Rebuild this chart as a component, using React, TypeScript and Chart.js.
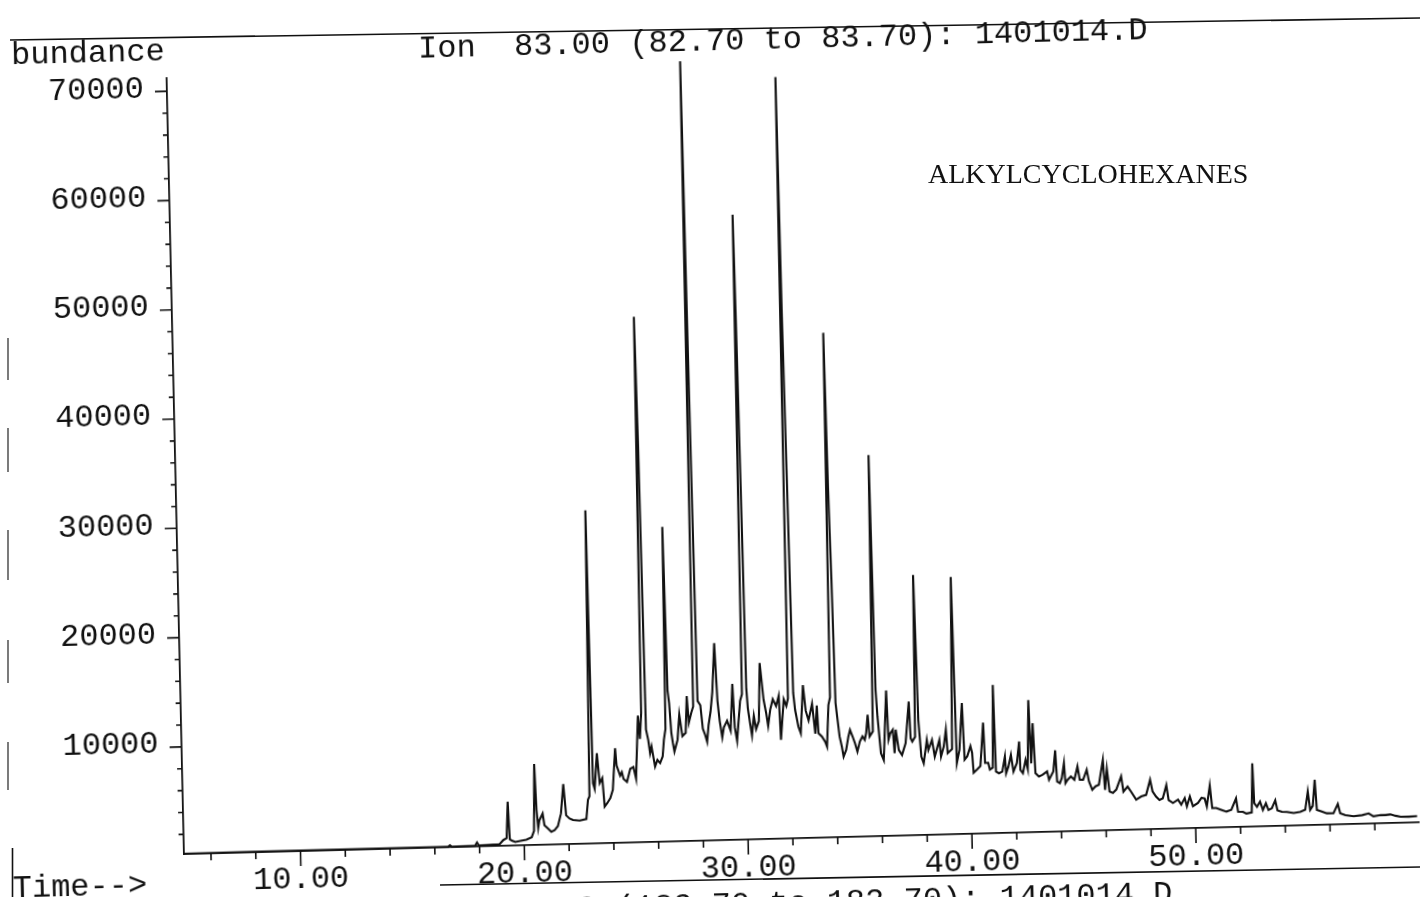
import React, { useEffect, useRef } from "react";
import { Chart, registerables } from "chart.js";

Chart.register(...registerables);

// ---- data: [retention time (min), abundance] ----
const earlyTrace: [number, number][] = [
  [4.8, 220], [8.0, 230], [12.0, 230], [15.0, 240], [16.6, 240], [16.68, 380], [16.76, 250],
  [17.5, 260], [17.8, 270], [17.89, 560], [17.97, 290], [18.3, 310], [18.6, 330], [18.9, 360],
  [19.07, 730], [19.22, 900], [19.3, 4230], [19.36, 780], [19.45, 650], [19.6, 520], [19.9, 640],
  [20.1, 700], [20.34, 910], [20.45, 1500], [20.52, 7610], [20.58, 3400], [20.64, 1760], [20.7, 2450],
  [20.85, 3060], [20.92, 1990], [21.07, 1680], [21.22, 1370], [21.37, 1510], [21.52, 1870], [21.67, 3020],
  [21.8, 5710], [21.9, 2840], [22.05, 2540], [22.2, 2390], [22.5, 2330], [22.8, 2460], [22.89, 4230],
  [22.96, 4520],
];

const peakTrace: [number, number][] = [
  [23.06, 30700], [23.13, 5710], [23.2, 5200], [23.33, 8440], [23.43, 5710], [23.55, 6160], [23.63, 3550],
  [23.75, 3860], [23.89, 4310], [24.01, 5070], [24.15, 8870], [24.2, 7280], [24.35, 6350], [24.43, 6660],
  [24.5, 6040], [24.65, 5760], [24.81, 6950], [24.95, 7100], [25.06, 6020], [25.2, 11800], [25.27, 9650],
  [25.35, 12000], [25.42, 48270], [25.48, 36500], [25.55, 10500], [25.64, 9540], [25.71, 8320], [25.78, 8930],
  [25.85, 8010], [25.92, 7100], [26.03, 7700], [26.15, 7400], [26.27, 8000], [26.34, 9520], [26.42, 10500],
  [26.48, 29000], [26.55, 14000], [26.61, 12850], [26.68, 10110], [26.74, 9190], [26.8, 8420], [26.95, 9490],
  [27.05, 11780], [27.17, 9800], [27.32, 10100], [27.4, 13460], [27.47, 11020], [27.59, 11930], [27.68, 12500],
  [27.74, 71550], [27.8, 43780], [27.88, 13000], [28.0, 12600], [28.09, 10450], [28.19, 9850], [28.27, 9240],
  [28.35, 10770], [28.45, 11980], [28.55, 13800], [28.68, 18250], [28.77, 12960], [28.85, 11130], [28.95, 9600],
  [29.03, 10510], [29.18, 11120], [29.33, 10200], [29.45, 14470], [29.52, 10480], [29.61, 9250], [29.78, 12900],
  [29.87, 13500], [29.93, 57380], [29.97, 48040], [30.02, 32650], [30.07, 14000], [30.12, 12200], [30.2, 10900],
  [30.28, 9700], [30.38, 11500], [30.47, 10280], [30.6, 11000], [30.69, 16320], [30.83, 12960], [30.93, 11760],
  [31.01, 10540], [31.12, 12060], [31.24, 12970], [31.38, 12350], [31.51, 13260], [31.57, 9240], [31.73, 12940],
  [31.84, 12330], [31.92, 13000], [31.98, 69880], [32.03, 48280], [32.09, 32990], [32.16, 13500], [32.23, 11930],
  [32.36, 10400], [32.46, 9800], [32.6, 14200], [32.7, 11850], [32.82, 10950], [32.99, 12470], [33.11, 9720],
  [33.2, 12290], [33.25, 9760], [33.4, 9440], [33.54, 8970], [33.62, 8510], [33.72, 12320], [33.8, 13000],
  [33.86, 46370], [33.92, 32260], [33.98, 23740], [34.04, 12500],
];

const midTrace: [number, number][] = [
  [34.1, 11240], [34.19, 9400], [34.28, 8480], [34.35, 7560], [34.47, 8160], [34.58, 9370], [34.66, 9990],
  [34.77, 9370], [34.87, 8760], [34.97, 7990], [35.09, 8910], [35.21, 9360], [35.31, 9050], [35.38, 9660],
  [35.46, 11330], [35.53, 9340], [35.68, 9800], [35.76, 35090], [35.84, 13580], [35.9, 11140], [36.02, 7780],
  [36.14, 7150], [36.31, 13500], [36.37, 9000], [36.46, 9600], [36.57, 9900], [36.63, 7760], [36.7, 9900],
  [36.82, 8040], [36.96, 7570], [37.13, 8640], [37.31, 12440], [37.36, 9080], [37.43, 8780], [37.56, 9200],
  [37.63, 24020], [37.72, 10750], [37.82, 7370], [37.92, 6760], [38.08, 8890], [38.14, 7970], [38.31, 8880],
  [38.42, 7350], [38.64, 8860], [38.7, 7330], [38.83, 8240], [38.94, 9770], [39.0, 7630], [39.2, 8000],
  [39.31, 23740], [39.4, 6700], [39.53, 7920], [39.68, 12190], [39.75, 7000], [39.87, 7300], [40.02, 8220],
  [40.09, 7610], [40.14, 5780], [40.3, 6080], [40.45, 6380], [40.61, 10340], [40.66, 6660], [40.8, 6650],
  [40.87, 6030], [41.0, 6200], [41.08, 13760], [41.14, 5830], [41.27, 5670], [41.42, 5820], [41.55, 7190],
  [41.59, 5660], [41.7, 6270], [41.82, 7330], [41.92, 5800], [42.08, 6560], [42.2, 8530], [42.23, 5930],
  [42.34, 5620], [42.47, 6830], [42.56, 6000], [42.65, 12300], [42.72, 6500], [42.82, 10160], [42.9, 5590],
  [43.05, 5280], [43.21, 5420], [43.42, 5730], [43.5, 4960], [43.7, 5720], [43.8, 7640], [43.86, 4780],
  [43.98, 4620], [44.07, 5070], [44.18, 6440], [44.23, 4610], [44.33, 4910], [44.48, 5210], [44.63, 4900],
  [44.78, 6110], [44.87, 4890],
];

const lateTrace: [number, number][] = [
  [45.02, 4880], [45.19, 5790], [45.28, 4720], [45.42, 3950], [45.57, 4250], [45.72, 4390], [45.92, 6640],
  [45.99, 3900], [46.09, 5820], [46.19, 3750], [46.34, 3600], [46.49, 3900], [46.72, 5100], [46.81, 3700],
  [47.0, 4150], [47.15, 3680], [47.37, 2930], [47.6, 3220], [47.82, 3350], [48.01, 4720], [48.11, 3650],
  [48.26, 3170], [48.41, 2850], [48.56, 2990], [48.73, 4190], [48.82, 2820], [49.01, 2550], [49.24, 2840],
  [49.38, 2380], [49.54, 2960], [49.63, 2200], [49.77, 3100], [49.9, 2200], [50.13, 2500], [50.29, 2950],
  [50.43, 2880], [50.52, 2150], [50.67, 4050], [50.76, 1980], [50.94, 1980], [51.16, 1810], [51.39, 1630],
  [51.61, 1780], [51.83, 2810], [51.91, 1590], [52.13, 1570], [52.28, 1400], [52.52, 1500], [52.59, 5990],
  [52.64, 2330], [52.76, 2000], [52.9, 2460], [53.02, 1700], [53.16, 2300], [53.27, 1680], [53.42, 1830],
  [53.58, 2550], [53.67, 1630], [53.87, 1480], [54.09, 1460], [54.39, 1350], [54.69, 1440], [54.91, 1610],
  [55.04, 3270], [55.13, 1600], [55.25, 1960], [55.36, 4330], [55.43, 1580], [55.65, 1410], [55.87, 1240],
  [56.17, 1230], [56.37, 2070], [56.47, 1200], [56.7, 1030], [57.06, 910], [57.45, 990], [57.74, 1130],
  [57.95, 860], [58.27, 950], [58.49, 940], [58.71, 990], [58.94, 850], [59.17, 750], [59.52, 740], [59.9, 770],
];

// ---- axes / ticks ----
const xTickValues = [6, 8, 10, 12, 14, 16, 18, 20, 22, 24, 26, 28, 30, 32, 34, 36, 38, 40, 42, 44, 46, 48, 50, 52, 54, 56, 58];
const xLabelValues = [10, 20, 30, 40, 50];
const yTickValues = [
  2000, 4000, 6000, 8000, 10000, 12000, 14000, 16000, 18000, 20000, 22000, 24000, 26000, 28000, 30000,
  32000, 34000, 36000, 38000, 40000, 42000, 44000, 46000, 48000, 50000, 52000, 54000, 56000, 58000, 60000,
  62000, 64000, 66000, 68000, 70000,
];
const yLabelValues = [10000, 20000, 30000, 40000, 50000, 60000, 70000];

const titleText = "Ion  83.00 (82.70 to 83.70): 1401014.D";
const nextTitleText = "Ion  183.00 (182.70 to 183.70): 1401014.D";
const yAxisTitle = "bundance";
const xAxisTitle = "Time-->";
const annotation = "ALKYLCYCLOHEXANES";

const MONO = "'Liberation Mono', 'DejaVu Sans Mono', monospace";
const SERIF = "'Liberation Serif', 'DejaVu Serif', serif";

const tickMarks = {
  id: "tickMarks",
  afterDraw(chart: any) {
    const { ctx } = chart;
    const xs = chart.scales.x;
    const ys = chart.scales.y;
    ctx.save();
    ctx.strokeStyle = "#111";
    ctx.lineWidth = 1.6;
    ctx.beginPath();
    xTickValues.forEach((v) => {
      const px = xs.getPixelForValue(v);
      const len = xLabelValues.includes(v) ? 15 : 7;
      ctx.moveTo(px, xs.top);
      ctx.lineTo(px, xs.top + len);
    });
    yTickValues.forEach((v) => {
      const py = ys.getPixelForValue(v);
      const len = yLabelValues.includes(v) ? 12 : 5;
      ctx.moveTo(ys.right, py);
      ctx.lineTo(ys.right - len, py);
    });
    ctx.stroke();
    ctx.restore();
  },
};

function ChromChart() {
  const ref = useRef<HTMLCanvasElement | null>(null);
  useEffect(() => {
    if (!ref.current) return;
    const points = [...earlyTrace, ...peakTrace, ...midTrace, ...lateTrace].map(([x, y]) => ({ x, y }));
    const chart = new Chart(ref.current, {
      type: "line",
      data: {
        datasets: [
          {
            data: points,
            borderColor: "#111",
            borderWidth: 2.1,
            pointRadius: 0,
            tension: 0,
            fill: false,
            clip: false as any,
          },
        ],
      },
      options: {
        animation: false,
        responsive: false,
        events: [],
        layout: { padding: { left: 0, right: 20.1, top: 78, bottom: 0 } },
        plugins: { legend: { display: false }, tooltip: { enabled: false }, title: { display: false } },
        scales: {
          x: {
            type: "linear",
            min: 4.795,
            max: 60,
            afterBuildTicks: (s: any) => {
              s.ticks = xTickValues.map((v) => ({ value: v }));
            },
            afterFit: (s: any) => {
              s.height = 106;
            },
            grid: { display: false },
            border: { display: true, color: "#111", width: 1.8 },
            ticks: {
              autoSkip: false,
              maxRotation: 0,
              minRotation: 0,
              padding: 5,
              color: "#111",
              font: { family: MONO, size: 32, lineHeight: 1 },
              callback: (v: any) => (xLabelValues.includes(Number(v)) ? Number(v).toFixed(2) : ""),
            },
          },
          y: {
            type: "linear",
            min: 200,
            max: 71200,
            afterBuildTicks: (s: any) => {
              s.ticks = yTickValues.map((v) => ({ value: v }));
            },
            afterFit: (s: any) => {
              s.width = 184;
            },
            grid: { display: false },
            border: { display: true, color: "#111", width: 1.8 },
            ticks: {
              autoSkip: false,
              padding: 15,
              labelOffset: -3,
              color: "#111",
              font: { family: MONO, size: 32, lineHeight: 1 },
              callback: (v: any) => (yLabelValues.includes(Number(v)) ? String(v) : ""),
            },
          },
        },
      },
      plugins: [tickMarks],
    });
    return () => chart.destroy();
  }, []);
  return <canvas ref={ref} width={1440} height={960} style={{ position: "absolute", left: 0, top: 0 }} />;
}

const monoText = (left: number, top: number): React.CSSProperties => ({
  position: "absolute",
  left,
  top,
  fontFamily: MONO,
  fontSize: 32,
  lineHeight: "32px",
  whiteSpace: "pre",
  color: "#111",
});

export default function App() {
  return (
    <div style={{ position: "fixed", left: 0, top: 0, width: 1420, height: 897, overflow: "hidden", background: "#fff" }}>
      <div
        style={{
          position: "absolute",
          left: 0,
          top: 0,
          width: 1440,
          height: 960,
          transformOrigin: "184px 854px",
          transform: "matrix(0.99967, -0.02565, 0.02234, 0.99975, 0, 0)",
        }}
      >
        <ChromChart />
        <div style={monoText(29, 36)}>{yAxisTitle}</div>
        <div style={monoText(436, 40)}>{titleText}</div>
        <div style={monoText(12, 869)}>{xAxisTitle}</div>
        <div style={monoText(384, 904)}>{nextTitleText}</div>
      </div>
      <div
        style={{
          position: "absolute",
          left: 928,
          top: 160,
          fontFamily: SERIF,
          fontSize: 28,
          lineHeight: "28px",
          whiteSpace: "pre",
          color: "#111",
        }}
      >
        {annotation}
      </div>
      <svg width={1420} height={897} style={{ position: "absolute", left: 0, top: 0 }}>
        <g stroke="#111" strokeWidth={1.6} fill="none">
          <line x1={10} y1={40} x2={1420} y2={18} />
          <line x1={440} y1={885} x2={1420} y2={867} />
          <line x1={12.5} y1={848} x2={12.5} y2={897} />
        </g>
        <g stroke="#333" strokeWidth={1.3} fill="none">
          <line x1={8} y1={338} x2={8} y2={380} />
          <line x1={8} y1={428} x2={8} y2={472} />
          <line x1={8} y1={530} x2={8} y2={580} />
          <line x1={8} y1={640} x2={8} y2={683} />
          <line x1={8} y1={742} x2={8} y2={790} />
        </g>
      </svg>
    </div>
  );
}
